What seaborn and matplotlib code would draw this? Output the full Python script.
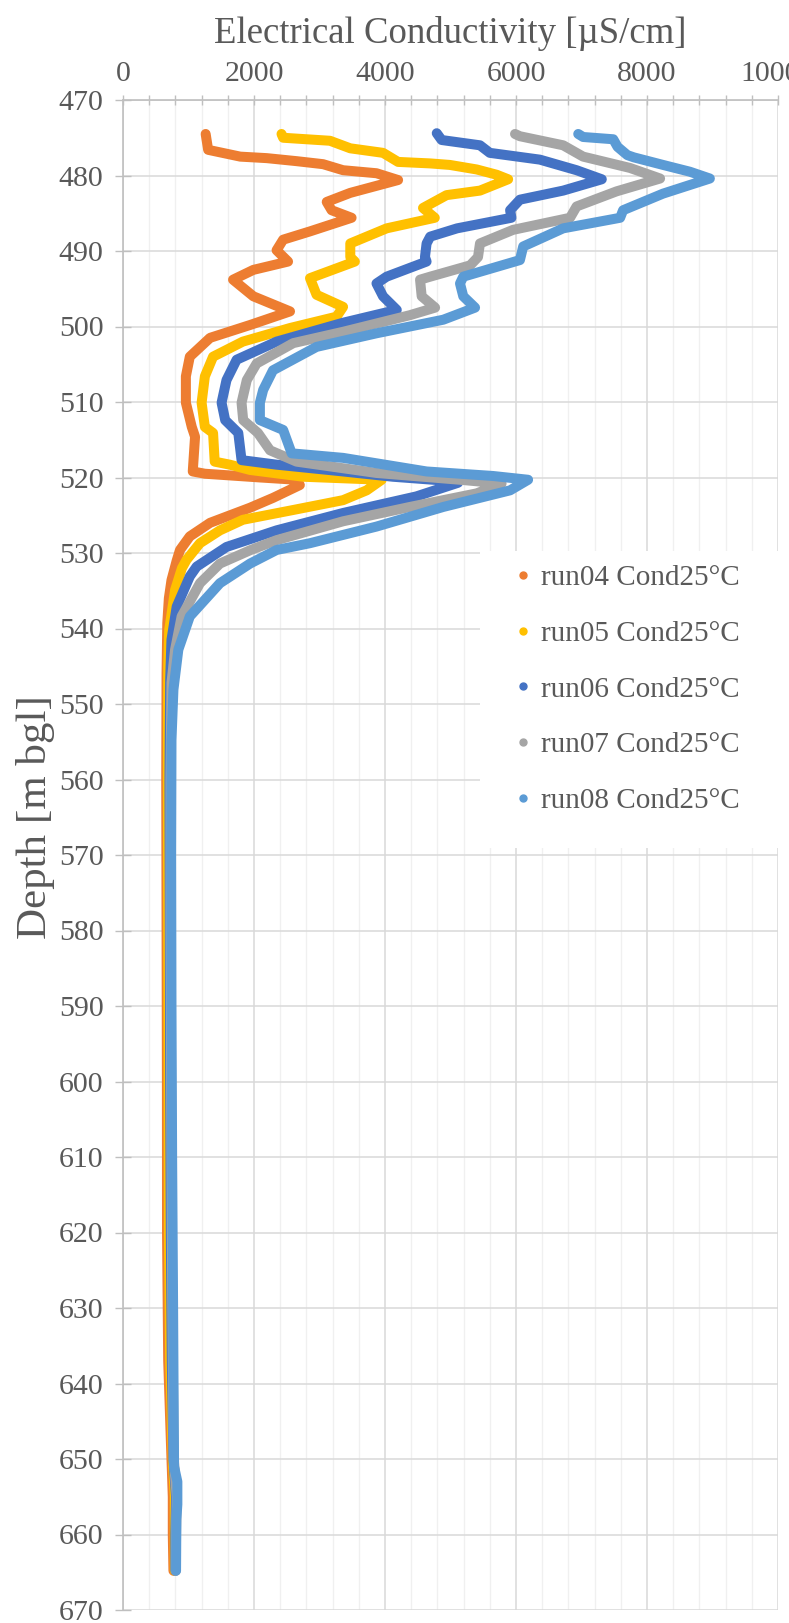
import numpy as np
import pandas as pd
import matplotlib
matplotlib.use("Agg")
import matplotlib.pyplot as plt
from matplotlib.lines import Line2D
from matplotlib.patches import Rectangle
from matplotlib.ticker import MultipleLocator
import seaborn as sns

# ---------------- data ----------------
run_labels = ["run04 Cond25°C", "run05 Cond25°C", "run06 Cond25°C",
              "run07 Cond25°C", "run08 Cond25°C"]
run_colors = ["#ED7D31", "#FFC000", "#4472C4", "#A5A5A5", "#5B9BD5"]

run04_depth = [474.5, 476.6, 477.5, 477.7, 478.1, 478.5, 479.3, 479.7, 480.6, 482.3, 483.5,
               484.6, 485.6, 487.4, 488.5, 489.9, 491.4, 492.5, 493.8, 496.0, 498.0, 499.8,
               501.5, 504.0, 506.6, 510.1, 513.3, 514.6, 519.2, 519.5, 520.0, 520.3, 521.0,
               522.7, 524.0, 526.0, 527.8, 529.6, 531.0, 533.6, 536.0, 539.3, 545.9, 560.0,
               580.0, 600.0, 620.0, 637.0, 650.0, 655.0, 660.0, 664.8]
run04_cond = [1262, 1300, 1790, 2195, 2650, 3055, 3360, 3870, 4200, 3470, 3110,
              3185, 3490, 2855, 2445, 2345, 2520, 1990, 1680, 1990, 2550, 1940,
              1330, 1020, 960, 960, 1050, 1100, 1065, 1250, 2100, 2650, 2700,
              2290, 1940, 1330, 1020, 870, 820, 740, 700, 676, 665, 660,
              665, 670, 672, 690, 740, 760, 760, 770]

run05_depth = [474.5, 475.0, 475.4, 476.4, 477.0, 478.2, 478.4, 478.6, 479.2, 479.9, 480.5,
               482.0, 482.6, 484.3, 485.6, 487.0, 489.0, 490.8, 491.4, 493.6, 495.8, 497.4,
               498.7, 500.2, 502.0, 504.0, 506.6, 510.1, 513.3, 514.1, 517.9, 518.3, 519.0,
               519.9, 520.3, 521.7, 523.0, 524.3, 525.6, 527.0, 528.7, 530.9, 532.0, 534.9,
               540.2, 545.0, 560.0, 580.0, 600.0, 620.0, 637.0, 650.0, 655.0, 660.0, 664.8]
run05_cond = [2420, 2445, 3160, 3470, 3970, 4200, 4690, 4990, 5400, 5705, 5880,
              5450, 4940, 4580, 4760, 4025, 3470, 3470, 3540, 2855, 2955, 3360,
              3260, 2550, 1830, 1375, 1250, 1200, 1250, 1375, 1400, 1630, 1940,
              2750, 3950, 3720, 3360, 2600, 1830, 1480, 1175, 970, 900, 795,
              705, 690, 685, 690, 695, 700, 720, 760, 790, 790, 790]

run06_depth = [474.4, 475.3, 476.0, 477.0, 477.9, 479.3, 480.5, 482.0, 483.2, 484.6, 485.6,
               487.0, 488.1, 489.0, 490.8, 491.4, 493.4, 494.3, 496.0, 497.8, 499.5, 502.0,
               504.4, 507.1, 510.1, 512.4, 514.1, 517.7, 518.3, 519.2, 519.9, 520.4, 520.7,
               522.5, 524.7, 527.0, 529.2, 531.8, 533.1, 537.1, 541.5, 546.8, 560.0, 580.0,
               600.0, 620.0, 637.0, 650.0, 655.0, 660.0, 664.8]
run06_cond = [4790, 4865, 5450, 5600, 6365, 6925, 7310, 6720, 6060, 5910, 5930,
              5100, 4690, 4635, 4610, 4635, 4025, 3870, 3970, 4180, 3360, 2345,
              1735, 1580, 1505, 1560, 1760, 1810, 2345, 3360, 4120, 4890, 5115,
              4480, 3360, 2345, 1580, 1125, 1020, 820, 740, 720, 710, 715,
              720, 730, 745, 770, 810, 800, 800]

run07_depth = [474.5, 474.8, 476.0, 477.5, 479.0, 480.4, 482.1, 484.1, 485.6, 487.2, 489.0,
               490.8, 491.9, 493.4, 493.8, 496.0, 497.5, 498.5, 500.7, 502.2, 504.9, 507.1,
               510.1, 512.4, 514.1, 516.4, 517.9, 519.4, 520.3, 520.8, 522.1, 523.9, 525.8,
               528.3, 529.6, 531.4, 534.0, 538.4, 542.8, 547.2, 560.0, 580.0, 600.0, 620.0,
               637.0, 650.0, 655.0, 660.0, 664.8]
run07_cond = [5985, 6060, 6720, 7025, 7740, 8200, 7535, 6925, 6825, 5955, 5450,
              5420, 5300, 4690, 4535, 4560, 4765, 4380, 3360, 2600, 2040, 1890,
              1810, 1835, 2060, 2245, 2650, 3870, 5145, 5780, 5400, 4380, 3360,
              2345, 1950, 1480, 1175, 895, 795, 740, 725, 725, 735, 745,
              760, 775, 820, 810, 805]

run08_depth = [474.5, 474.9, 475.2, 476.2, 477.3, 477.6, 478.6, 479.5, 480.4, 482.4, 484.6,
               485.6, 487.0, 489.4, 491.2, 493.4, 494.3, 496.0, 497.5, 499.1, 500.9, 502.7,
               505.8, 508.4, 510.1, 512.4, 513.7, 516.8, 517.4, 519.2, 519.8, 520.3, 521.7,
               523.9, 526.5, 528.7, 529.6, 531.4, 534.0, 538.4, 542.8, 548.1, 554.8, 570.0,
               590.0, 610.0, 630.0, 645.0, 651.0, 653.0, 656.0, 658.0, 664.8]
run08_cond = [6950, 7025, 7485, 7550, 7700, 7800, 8245, 8655, 8960, 8245, 7635,
              7590, 6720, 6110, 6060, 5195, 5145, 5195, 5375, 4890, 3870, 2955,
              2290, 2140, 2090, 2090, 2445, 2575, 3360, 4635, 5650, 6185, 5910,
              4890, 3870, 2855, 2345, 1940, 1480, 1020, 845, 770, 740, 735,
              740, 750, 765, 775, 780, 830, 830, 815, 810]

x_ticks = [0, 2000, 4000, 6000, 8000, 10000]
y_ticks = list(range(470, 671, 10))

frames = []
for lab, d, c in zip(run_labels,
                     [run04_depth, run05_depth, run06_depth, run07_depth, run08_depth],
                     [run04_cond, run05_cond, run06_cond, run07_cond, run08_cond]):
    frames.append(pd.DataFrame({"run": lab, "depth": d, "cond": c}))
df = pd.concat(frames, ignore_index=True)

# ---------------- style ----------------
sns.set_theme(style="white")
plt.rcParams["font.family"] = ["Liberation Serif", "DejaVu Serif"]
TXT = "#595959"

fig = plt.figure(figsize=(7.89, 16.23), dpi=100)
ax = fig.add_axes([123 / 789, 1 - 1610 / 1623, 655 / 789, 1510 / 1623])

sns.lineplot(data=df, x="cond", y="depth", hue="run", hue_order=run_labels,
             palette=run_colors, sort=False, estimator=None, linewidth=7.2,
             legend=False, ax=ax, solid_capstyle="round", solid_joinstyle="round",
             zorder=3)

ax.set_xlim(0, 10000)
ax.set_ylim(670, 470)
ax.xaxis.tick_top()
ax.xaxis.set_label_position("top")
ax.set_xticks(x_ticks)
ax.set_xticklabels([str(v) for v in x_ticks])
ax.xaxis.set_minor_locator(MultipleLocator(400))
ax.set_yticks(y_ticks)
ax.set_yticklabels([str(v) for v in y_ticks])

ax.grid(True, which="major", axis="both", color="#D9D9D9", linewidth=1.1, zorder=0)
ax.grid(True, which="minor", axis="x", color="#F0F0F0", linewidth=1.0, zorder=0)
ax.set_axisbelow(True)

for s in ["right", "bottom"]:
    ax.spines[s].set_visible(False)
for s in ["top", "left"]:
    ax.spines[s].set_color("#BFBFBF")
    ax.spines[s].set_linewidth(1.2)

ax.tick_params(axis="x", which="both", direction="inout", length=7, width=1,
               color="#BFBFBF", labelsize=21.5, labelcolor=TXT, pad=6,
               top=True, bottom=False)
ax.tick_params(axis="y", which="major", direction="inout", length=12, width=1,
               color="#BFBFBF", labelsize=21.5, labelcolor=TXT, pad=8, left=True)

ax.set_xlabel("Electrical Conductivity [µS/cm]", fontsize=26.5, color=TXT, labelpad=13)
ax.set_ylabel("Depth [m bgl]", fontsize=31, color=TXT)
ax.yaxis.set_label_coords(-0.104, 0.525)

# legend with white background
ax.add_patch(Rectangle((0.545, 0.5046), 0.455, 0.197, transform=ax.transAxes,
                       facecolor="white", edgecolor="none", zorder=2))
handles = [Line2D([], [], linestyle="none", marker="o", markersize=5,
                  markerfacecolor=c, markeredgecolor=c) for c in run_colors]
leg = ax.legend(handles, run_labels, loc="upper left", bbox_to_anchor=(0.6, 0.692),
                frameon=False, fontsize=21, labelcolor=TXT, handlelength=0.5,
                handletextpad=0.35, labelspacing=1.0, borderaxespad=0, borderpad=0)
leg.set_zorder(5)

fig.savefig("out.png", dpi=100)
